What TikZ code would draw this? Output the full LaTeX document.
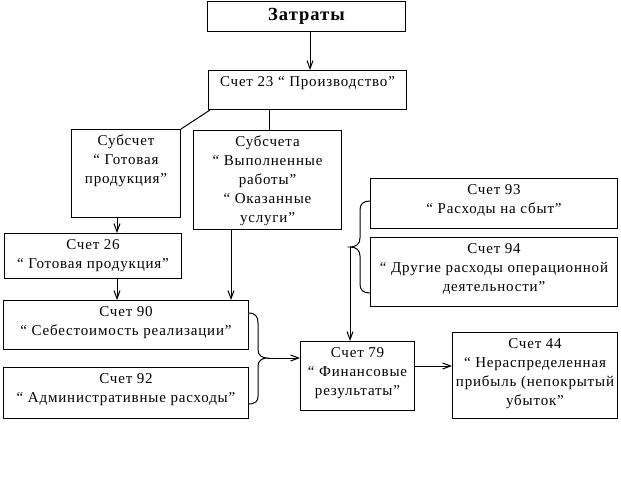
\documentclass[tikz,border=0pt]{standalone}
\usepackage{fontspec}
\setmainfont[LetterSpace=5.5]{Liberation Serif}
\usetikzlibrary{arrows.meta}
\newcommand\boxtext[3]{\parbox[c][#2][t]{#1}{\centering\rule{0pt}{16pt}#3}}
\begin{document}
\begin{tikzpicture}[x=1pt,y=-1pt,
  box/.style={draw, line width=1pt, inner sep=0pt, anchor=north west,
    font=\fontsize{15}{19}\selectfont},
  conn/.style={line width=1pt},
  arr/.style={line width=1pt, -{Straight Barb[length=8pt,width=6pt]}}]
\useasboundingbox (0,0) rectangle (621,499);
% boxes
\node[box, minimum width=198pt, minimum height=30pt, font=\fontsize{18.5}{20}\selectfont\bfseries] (zat) at (207,1) {Затраты};
\node[box] (s23) at (208,70) {\boxtext{198pt}{39pt}{Счет 23 “ Производство”}};
\node[box] (sub1) at (71,129) {\boxtext{109pt}{88pt}{Субсчет\\“ Готовая\\продукция”}};
\node[box] (sub2) at (193,130) {\boxtext{148pt}{99pt}{Субсчета\\“ Выполненные\\работы”\\“ Оказанные\\услуги”}};
\node[box] (s93) at (370,178) {\boxtext{247pt}{50pt}{Счет 93\\“ Расходы на сбыт”}};
\node[box] (s94) at (370,237) {\boxtext{247pt}{69pt}{Счет 94\\“ Другие расходы операционной\\деятельности”}};
\node[box] (s26) at (4,233) {\boxtext{177pt}{45pt}{Счет 26\\“ Готовая продукция”}};
\node[box] (s90) at (3,300) {\boxtext{245pt}{49pt}{Счет 90\\“ Себестоимость реализации”}};
\node[box] (s92) at (3,367) {\boxtext{245pt}{51pt}{Счет 92\\“ Административные расходы”}};
\node[box] (s79) at (300,341) {\boxtext{114pt}{69pt}{Счет 79\\“ Финансовые\\результаты”}};
\node[box] (s44) at (452,332) {\boxtext{165pt}{86pt}{Счет 44\\“ Нераспределенная\\прибыль (непокрытый\\убыток”}};
% helper coordinates
\coordinate (xa) at (310,0);
\coordinate (xb) at (269,0);
\coordinate (xc) at (117,0);
\coordinate (xd) at (231,0);
\coordinate (ye) at (0,366);
\coordinate (bRtip) at (267,358);
\coordinate (bLtip) at (350,247);
% connectors
\draw[arr] (zat.south -| xa) -- (s23.north -| xa);
\draw[conn] ([xshift=2pt]s23.south west) -- (sub1.north east);
\draw[conn] (s23.south -| xb) -- (sub2.north -| xb);
\draw[arr] (sub1.south -| xc) -- (s26.north -| xc);
\draw[arr] (s26.south -| xc) -- (s90.north -| xc);
\draw[arr] (sub2.south -| xd) -- (s90.north -| xd);
% right brace of 90/92
\draw[conn] (248,313) .. controls (256,313) and (258,317) .. (258,323) -- (258,350)
  .. controls (258,355) and (262,358) .. (bRtip)
  .. controls (262,358) and (258,361) .. (258,366) -- (258,396)
  .. controls (258,401) and (256,404) .. (248,404);
\draw[arr] (bRtip) -- (s79.west |- bRtip);
% left brace of 93/94
\draw[conn] (370,201) .. controls (363,201) and (360,204) .. (360,210) -- (360,238)
  .. controls (360,244) and (356,247) .. (bLtip)
  .. controls (356,247) and (360,250) .. (360,256) -- (360,284)
  .. controls (360,290) and (363,293) .. (370,293);
\draw[arr] (bLtip) -- (bLtip |- s79.north);
\draw[arr] (s79.east |- ye) -- (s44.west |- ye);
\end{tikzpicture}
\end{document}
